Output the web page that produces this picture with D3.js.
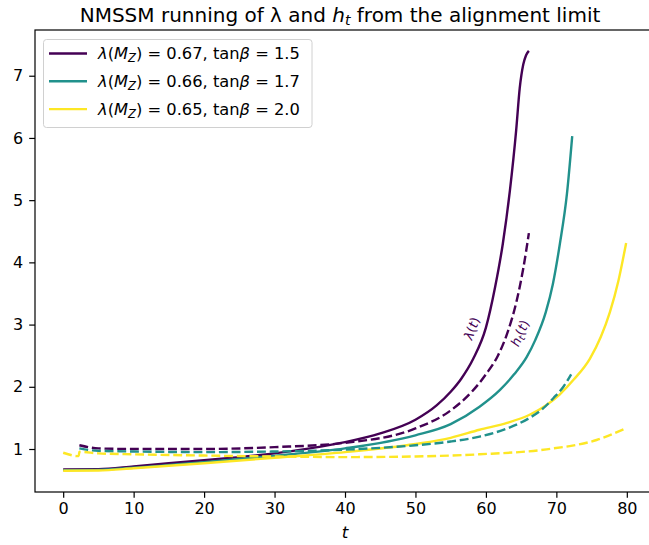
<!DOCTYPE html>
<html>
<head>
<meta charset="utf-8">
<script src="https://cdn.jsdelivr.net/npm/d3@7"></script>
<style>
  body { margin: 0; background: #fff; }
  text { font-family: "DejaVu Sans", sans-serif; }
</style>
</head>
<body>
<div id="chart"></div>
<script>
const width = 649;
const height = 545;

// t values and running couplings
const lam1T = [0, 5, 10, 15, 20, 25, 30, 35, 40, 45, 50, 53, 55, 56.5, 58.2, 60, 61.3, 62.4, 63.4, 64.3, 64.8, 65.3, 65.7, 66.1];
const lam1V = [0.67, 0.675, 0.72, 0.77, 0.82, 0.87, 0.93, 1.01, 1.11, 1.25, 1.47, 1.7, 1.92, 2.13, 2.45, 2.95, 3.6, 4.3, 5.15, 6.13, 6.8, 7.18, 7.33, 7.4];
const ht1T = [2.3, 5, 10, 20, 30, 40, 50, 55, 58, 60, 61.7, 63, 64.4, 65.3, 66.1];
const ht1V = [1.06, 1.01, 1.0, 1.0, 1.03, 1.1, 1.33, 1.62, 1.92, 2.2, 2.5, 2.85, 3.4, 3.9, 4.47];

const lam2T = [0, 5, 10, 20, 30, 40, 50, 55, 59.1, 62, 64, 65.8, 67, 68.5, 69.5, 70.5, 71.5, 72.25];
const lam2V = [0.66, 0.665, 0.70, 0.79, 0.89, 1.01, 1.22, 1.4, 1.68, 1.95, 2.2, 2.48, 2.75, 3.2, 3.65, 4.3, 5.1, 6.03];
const ht2T = [2.3, 5, 10, 20, 30, 40, 50, 55, 59.1, 63, 66.2, 68, 69.6, 71, 72.1];
const ht2V = [1.01, 0.97, 0.96, 0.95, 0.96, 0.99, 1.06, 1.12, 1.2, 1.33, 1.5, 1.64, 1.82, 2.0, 2.2];

const lam3T = [0, 5, 10, 20, 30, 40, 50, 55, 59.1, 63, 66.2, 68.5, 70.5, 72.5, 74.75, 76.3, 77.6, 78.8, 79.9];
const lam3V = [0.65, 0.655, 0.69, 0.77, 0.86, 0.95, 1.08, 1.18, 1.31, 1.42, 1.55, 1.7, 1.88, 2.12, 2.45, 2.8, 3.2, 3.7, 4.31];
const ht3T = [0, 2.2, 2.3, 5, 10, 20, 30, 40, 50, 59.1, 68.6, 75.7, 79.8];
const ht3V = [0.94, 0.885, 0.955, 0.93, 0.915, 0.895, 0.88, 0.87, 0.88, 0.915, 0.995, 1.145, 1.33];

const labels = ["0.67", "0.66", "0.65"];
const tanBetas = ["1.5", "1.7", "2.0"];
const colors = ["#440154", "#21918c", "#fde725"];
const xTicks = [0, 10, 20, 30, 40, 50, 60, 70, 80];
const yTicks = [1, 2, 3, 4, 5, 6, 7];

const series = [
  { t: lam1T, v: lam1V, c: 0, dash: false },
  { t: lam2T, v: lam2V, c: 1, dash: false },
  { t: lam3T, v: lam3V, c: 2, dash: false },
  { t: ht1T, v: ht1V, c: 0, dash: true },
  { t: ht2T, v: ht2V, c: 1, dash: true },
  { t: ht3T, v: ht3V, c: 2, dash: true }
];

const svg = d3.select("#chart")
  .append("svg")
  .attr("width", width)
  .attr("height", height);

const x = d3.scaleLinear().domain([-4, 84]).range([35, 655]);
const y = d3.scaleLinear().domain([0.309, 7.735]).range([492, 30]);

// Lines
const line = d3.line()
  .x(d => x(d[0]))
  .y(d => y(d[1]))
  .curve(d3.curveMonotoneX);

const plot = svg.append("g");
series.forEach(s => {
  plot.append("path")
    .datum(s.t.map((t, i) => [t, s.v[i]]))
    .attr("fill", "none")
    .attr("stroke", colors[s.c])
    .attr("stroke-width", 2.4)
    .attr("stroke-dasharray", s.dash ? "8.9,3.8" : null)
    .attr("d", line);
});

// Axes
const gX = svg.append("g")
  .attr("transform", `translate(0, 492)`)
  .call(d3.axisBottom(x).tickValues(xTicks).tickSize(5.8).tickPadding(5));
const gY = svg.append("g")
  .attr("transform", `translate(35, 0)`)
  .call(d3.axisLeft(y).tickValues(yTicks).tickSize(5.8).tickPadding(6));
[gX, gY].forEach(g => {
  g.select(".domain").remove();
  g.selectAll("text").attr("font-family", "DejaVu Sans").attr("font-size", 16).attr("fill", "#000");
  g.selectAll("line").attr("stroke", "#000").attr("stroke-width", 1.2);
});

svg.append("rect")
  .attr("x", 35).attr("y", 30)
  .attr("width", 620).attr("height", 462)
  .attr("fill", "none")
  .attr("stroke", "#000")
  .attr("stroke-width", 1.2);

// Title
const title = svg.append("text")
  .attr("x", 340)
  .attr("y", 22)
  .attr("text-anchor", "middle")
  .attr("font-size", 20);
title.append("tspan").text("NMSSM running of λ and ");
title.append("tspan").attr("font-style", "italic").text("h");
title.append("tspan").attr("font-style", "italic").attr("font-size", 14).attr("dy", 3).text("t");
title.append("tspan").attr("dy", -3).text(" from the alignment limit");

// x label
svg.append("text")
  .attr("x", 345)
  .attr("y", 538)
  .attr("text-anchor", "middle")
  .attr("font-size", 16.7)
  .attr("font-style", "italic")
  .text("t");

// Curve annotations
svg.append("text")
  .attr("transform", "translate(476,330) rotate(-70)")
  .attr("text-anchor", "middle")
  .attr("font-size", 13)
  .attr("fill", colors[0])
  .call(t => {
    t.append("tspan").attr("font-style", "italic").text("λ");
    t.append("tspan").text("(");
    t.append("tspan").attr("font-style", "italic").text("t");
    t.append("tspan").text(")");
  });
svg.append("text")
  .attr("transform", "translate(524,335) rotate(-66)")
  .attr("text-anchor", "middle")
  .attr("font-size", 13)
  .attr("fill", colors[0])
  .call(t => {
    t.append("tspan").attr("font-style", "italic").text("h");
    t.append("tspan").attr("font-style", "italic").attr("font-size", 9.5).attr("dy", 2.5).text("t");
    t.append("tspan").attr("dy", -2.5).text("(");
    t.append("tspan").attr("font-style", "italic").text("t");
    t.append("tspan").text(")");
  });

// Legend
const legend = svg.append("g");
legend.append("rect")
  .attr("x", 43.5).attr("y", 39.5)
  .attr("width", 268.5).attr("height", 88)
  .attr("rx", 3)
  .attr("fill", "#fff")
  .attr("fill-opacity", 0.8)
  .attr("stroke", "#d0d0d0");

labels.forEach((lab, i) => {
  const ly = 53.5 + i * 27.8;
  legend.append("line")
    .attr("x1", 49).attr("x2", 87)
    .attr("y1", ly).attr("y2", ly)
    .attr("stroke", colors[i])
    .attr("stroke-width", 2.4);
  const tx = legend.append("text")
    .attr("x", 98)
    .attr("y", ly + 5.5)
    .attr("font-size", 16.3);
  tx.append("tspan").attr("font-style", "italic").text("λ");
  tx.append("tspan").text("(");
  tx.append("tspan").attr("font-style", "italic").text("M");
  tx.append("tspan").attr("font-style", "italic").attr("font-size", 11.5).attr("dy", 3).text("Z");
  tx.append("tspan").attr("dy", -3).text(") = " + lab + ", tan");
  tx.append("tspan").attr("font-style", "italic").text("β");
  tx.append("tspan").text(" = " + tanBetas[i]);
});
</script>
</body>
</html>
